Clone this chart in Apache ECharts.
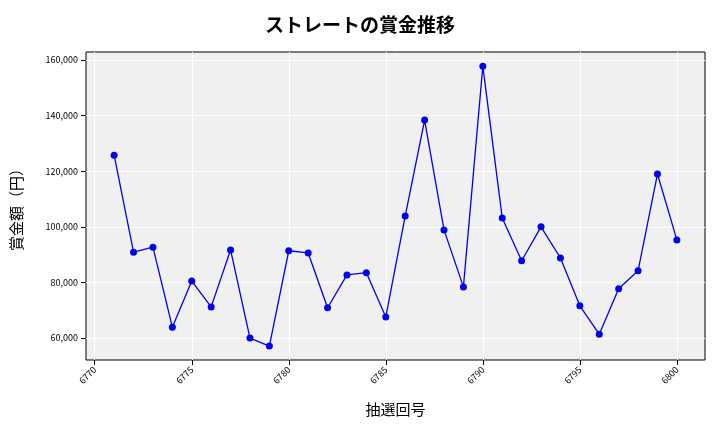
<!DOCTYPE html>
<html><head><meta charset="utf-8">
<script src="https://cdn.jsdelivr.net/npm/echarts@6/dist/echarts.min.js"></script>
<style>html,body{margin:0;padding:0;background:#fff}</style>
</head><body>
<div id="main" style="width:720px;height:432px"></div>
<script>
var draws = [6771,6772,6773,6774,6775,6776,6777,6778,6779,6780,6781,6782,6783,6784,6785,6786,6787,6788,6789,6790,6791,6792,6793,6794,6795,6796,6797,6798,6799,6800];
var prizes = [125800,90900,92700,63900,80500,71200,91700,60000,57100,91400,90600,70900,82700,83500,67600,103900,138400,98900,78400,157800,103200,87800,100000,88800,71600,61400,77700,84200,119000,95300];
var xTicks = [6770,6775,6780,6785,6790,6795,6800];
var yTicks = [60000,80000,100000,120000,140000,160000];

var font = '"Noto Sans CJK JP", sans-serif';
var chart = echarts.init(document.getElementById('main'));
var option = {
    title: {
        text: 'ストレートの賞金推移',
        left: 'center', top: 10,
        textStyle: { fontFamily: font, fontSize: 19, fontWeight: 'bold', color: '#000' }
    },
    grid: {
        left: 86, right: 15, top: 52, bottom: 72,
        show: true, backgroundColor: '#f0f0f0', borderWidth: 1, borderColor: '#000'
    },
    xAxis: {
        type: 'value', min: 6769.55, max: 6801.45,
        name: '抽選回号', nameLocation: 'middle', nameGap: 42,
        nameTextStyle: { fontFamily: font, fontSize: 15, color: '#000' },
        axisLine: { show: false },
        axisTick: { show: true, customValues: xTicks, lineStyle: { color: '#000' } },
        axisLabel: {
            customValues: xTicks, rotate: 45, fontSize: 9, color: '#000', fontFamily: font,
            formatter: function (v) { return String(v); }
        },
        splitLine: { show: true, lineStyle: { color: '#fff', width: 1 } }
    },
    yAxis: {
        type: 'value', min: 52100, max: 162900,
        name: '賞金額（円）', nameLocation: 'middle', nameGap: 62,
        nameTextStyle: { fontFamily: font, fontSize: 15, color: '#000' },
        axisLine: { show: false },
        axisTick: { show: true, customValues: yTicks, lineStyle: { color: '#000' } },
        axisLabel: {
            customValues: yTicks, fontSize: 9, color: '#000', fontFamily: font,
            formatter: function (v) { return v.toLocaleString('en-US'); }
        },
        splitLine: { show: true, lineStyle: { color: '#fff', width: 1 } }
    },
    series: [{
        type: 'line',
        data: draws.map(function (d, i) { return [d, prizes[i]]; }),
        symbol: 'circle', symbolSize: 7,
        lineStyle: { color: '#0000ee', width: 1.3 },
        itemStyle: { color: '#0000ee' }
    }]
};
chart.setOption(option);
</script>
</body></html>
